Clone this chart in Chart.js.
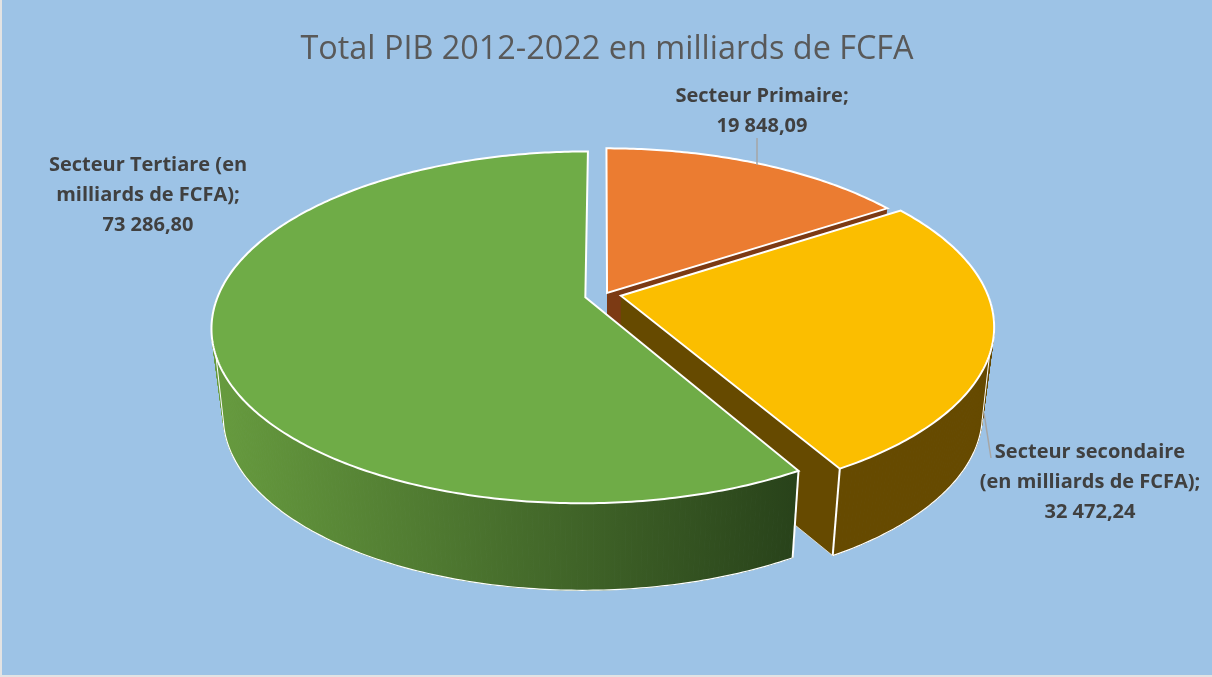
<!DOCTYPE html>
<html lang="fr">
<head>
<meta charset="utf-8">
<title>Total PIB 2012-2022</title>
<script src="https://cdn.jsdelivr.net/npm/chart.js@4"></script>
<style>
html,body{margin:0;padding:0;background:#e3e3e3;overflow:hidden}
#wrap{position:absolute;left:2px;top:0;width:1210px;height:675px}
canvas{display:block}
</style>
</head>
<body>
<div id="wrap"><canvas id="c" width="1210" height="675"></canvas></div>
<script>
const chartTitle = 'Total PIB 2012-2022 en milliards de FCFA';
const categories = ['Secteur Primaire', 'Secteur secondaire (en milliards de FCFA)', 'Secteur Tertiare (en milliards de FCFA)'];
const values = [19848.09, 32472.24, 73286.80];
const labelLines = [['Secteur Primaire;'], ['Secteur secondaire', '(en milliards de FCFA);'], ['Secteur Tertiare (en', 'milliards de FCFA);']];
const valueLabels = ['19 848,09', '32 472,24', '73 286,80'];
const topColors = ['#eb7c31', '#fbbe00', '#6fac47'];
// how far each slice is pulled out of the pie, in pie radii
const explodeU = [0.011, 0.0486, -0.048];
const explodeV = [-0.012, 0.004, 0.013];

// perspective view of the tilted pie (canvas coordinates)
const view = {cx: 601, cy: 295, a: 367, b: 170, p: 0.171, depth: 87, shrink: 0.97};
const labelPos = [{x: 760, y: 102}, {x: 1088, y: 458}, {x: 146, y: 171}];
const labelLeaders = [[755, 138, 755, 165], [982, 413, 989, 458], null];
const wallColors = ['#7c3a14', '#664a00', null];
// radial cut face that turns toward the viewer: end of primary, end of secondary
const cutFaces = [true, true, false];
const SIL_BOTTOM = 12 * Math.PI / 180, SIL_TOP = 19 * Math.PI / 180;

function project(u, v, low) {
  const w = 1 - view.p * v, s = low ? view.shrink : 1;
  return [view.cx + s * view.a * u / w, view.cy + (low ? view.depth : 0) + view.b * v / w];
}
function slicePlane(i) { return {du: explodeU[i], dv: explodeV[i]}; }
function rim(pl, t, low) { return project(pl.du + Math.cos(t), pl.dv + Math.sin(t), low); }
function rimPath(ctx, pl, a, b, low, first) {
  const n = Math.max(2, Math.ceil(Math.abs(b - a) * 80));
  for (let k = 0; k <= n; k++) {
    const p = rim(pl, a + (b - a) * k / n, low);
    if (k === 0 && first) ctx.moveTo(p[0], p[1]); else ctx.lineTo(p[0], p[1]);
  }
}
function greenWall(ctx) {
  const g = ctx.createLinearGradient(220, 0, 795, 0);
  g.addColorStop(0, '#669a3e');
  g.addColorStop(1, '#28421a');
  return g;
}
function drawWalls(ctx, el, i) {
  const pl = slicePlane(i);
  const paint = wallColors[i] || greenWall(ctx);
  ctx.fillStyle = paint; ctx.strokeStyle = paint; ctx.lineWidth = 1;
  const s = el.startAngle, e = el.endAngle;
  const a0 = project(pl.du, pl.dv, false), a1 = project(pl.du, pl.dv, true);
  if (cutFaces[i]) {
    const p = rim(pl, e, false), q = rim(pl, e, true);
    ctx.beginPath();
    ctx.moveTo(a0[0], a0[1]); ctx.lineTo(p[0], p[1]); ctx.lineTo(q[0], q[1]); ctx.lineTo(a1[0], a1[1]);
    ctx.closePath(); ctx.fill();
    ctx.save(); ctx.strokeStyle = '#ffffff'; ctx.lineWidth = 1; ctx.globalAlpha = 0.7;
    ctx.beginPath(); ctx.moveTo(a1[0], a1[1]); ctx.lineTo(q[0], q[1]); ctx.stroke(); ctx.restore();
  }
  // outer curved wall: front half only
  const lo = Math.max(s, 0), hi = Math.min(e, Math.PI);
  if (hi > lo) {
    const n = Math.ceil((hi - lo) * 80);
    for (let k = 0; k < n; k++) {
      const t0 = lo + (hi - lo) * k / n, t1 = lo + (hi - lo) * (k + 1) / n;
      const p0 = rim(pl, t0, false), p1 = rim(pl, t1, false), q1 = rim(pl, t1, true), q0 = rim(pl, t0, true);
      ctx.beginPath();
      ctx.moveTo(p0[0], p0[1]); ctx.lineTo(p1[0], p1[1]); ctx.lineTo(q1[0], q1[1]); ctx.lineTo(q0[0], q0[1]);
      ctx.closePath(); ctx.fill(); ctx.stroke();
    }
    // white outline: silhouette and lower edge
    const bLo = Math.max(lo, SIL_BOTTOM), bHi = Math.min(hi, Math.PI - SIL_BOTTOM);
    ctx.strokeStyle = '#ffffff'; ctx.lineWidth = 1.2; ctx.lineJoin = 'round';
    ctx.beginPath();
    rimPath(ctx, pl, bLo, bHi, true, true);
    ctx.stroke();
    ctx.lineWidth = 1;
    if (bLo === SIL_BOTTOM) { const q = rim(pl, SIL_BOTTOM, true), p = rim(pl, SIL_TOP, false); ctx.beginPath(); ctx.moveTo(q[0], q[1]); ctx.lineTo(p[0], p[1]); ctx.stroke(); }
    if (bHi === Math.PI - SIL_BOTTOM) { const q = rim(pl, Math.PI - SIL_BOTTOM, true), p = rim(pl, Math.PI - SIL_TOP, false); ctx.beginPath(); ctx.moveTo(q[0], q[1]); ctx.lineTo(p[0], p[1]); ctx.stroke(); }
    // vertical corner edge at the slice's cut
    const cornerT = (i === 1) ? hi : lo;
    const p = rim(pl, cornerT, false), q = rim(pl, cornerT, true);
    ctx.lineWidth = 2;
    ctx.beginPath(); ctx.moveTo(p[0], p[1]); ctx.lineTo(q[0], q[1]); ctx.stroke();
  }
}
function drawTop(ctx, el, i) {
  const pl = slicePlane(i);
  const a = project(pl.du, pl.dv, false);
  ctx.beginPath();
  ctx.moveTo(a[0], a[1]);
  rimPath(ctx, pl, el.startAngle, el.endAngle, false, false);
  ctx.closePath();
  ctx.fillStyle = el.options.backgroundColor;
  ctx.fill();
  ctx.strokeStyle = '#ffffff'; ctx.lineWidth = 2; ctx.lineJoin = 'miter';
  ctx.stroke();
}
const tiltedPie = {
  id: 'tiltedPie',
  beforeDatasetsDraw(chart) {
    chart.getDatasetMeta(0).data.forEach((el, i) => {
      el.draw = function (ctx) {
        ctx.save();
        drawWalls(ctx, el, i);
        drawTop(ctx, el, i);
        ctx.restore();
      };
    });
  },
  afterDraw(chart) {
    const ctx = chart.ctx;
    ctx.save();
    ctx.textAlign = 'center';
    ctx.textBaseline = 'alphabetic';
    values.forEach((v, i) => {
      const seg = labelLeaders[i];
      if (seg) {
        ctx.strokeStyle = '#a6a6a6'; ctx.lineWidth = 1.5;
        ctx.beginPath(); ctx.moveTo(seg[0], seg[1]); ctx.lineTo(seg[2], seg[3]); ctx.stroke();
      }
      ctx.fillStyle = '#404040';
      ctx.font = 'bold 20px "Open Sans"';
      labelLines[i].concat(valueLabels[i]).forEach((t, k) => {
        ctx.fillText(t, labelPos[i].x, labelPos[i].y + k * 30);
      });
    });
    ctx.restore();
  }
};
const bgPlugin = {
  id: 'bg',
  beforeDraw(chart) {
    const c = chart.ctx;
    c.save(); c.fillStyle = '#9dc3e6'; c.fillRect(0, 0, chart.width, chart.height); c.restore();
  }
};
new Chart(document.getElementById('c'), {
  type: 'pie',
  data: {
    labels: categories,
    datasets: [{data: values, backgroundColor: topColors, borderColor: '#ffffff', borderWidth: 2}]
  },
  options: {
    responsive: false,
    animation: false,
    events: [],
    rotation: 0,
    plugins: {
      legend: {display: false},
      tooltip: {enabled: false},
      title: {
        display: true,
        text: chartTitle,
        color: '#595959',
        font: {family: '"Open Sans"', size: 32.4, weight: 'normal'},
        padding: {top: 30, bottom: 10}
      }
    }
  },
  plugins: [bgPlugin, tiltedPie]
});
</script>
</body>
</html>
